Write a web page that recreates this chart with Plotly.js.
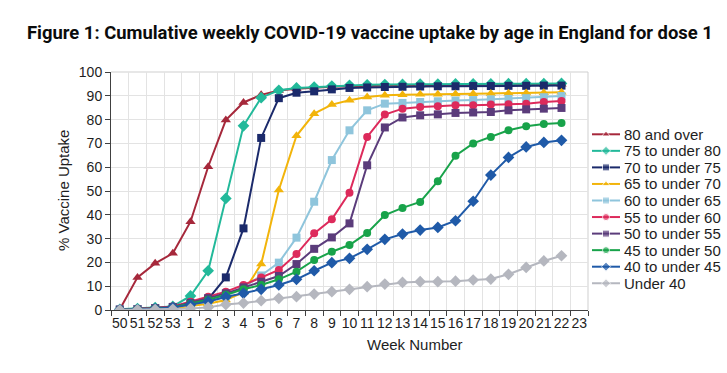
<!DOCTYPE html>
<html>
<head>
<meta charset="utf-8">
<script src="https://cdn.plot.ly/plotly-3.0.1.min.js"></script>
<style>html,body{margin:0;padding:0;background:#fff;}#chart{width:727px;height:373px;}</style>
</head>
<body>
<div id="chart"></div>
<script>
// Categories (week numbers)
const weeks = ["50","51","52","53","1","2","3","4","5","6","7","8","9","10","11","12","13","14","15","16","17","18","19","20","21","22","23"];
const dataWeeks = weeks.slice(0, 26);

// Series names
const seriesNames = ["80 and over","75 to under 80","70 to under 75","65 to under 70","60 to under 65","55 to under 60","50 to under 55","45 to under 50","40 to under 45","Under 40"];

// Cumulative uptake (%) per week, week 50 .. week 22
const age80plus  = [0.3,13.7,19.6,23.8,37.1,60.2,79.8,87.2,90.4,92.2,93.0,93.5,93.8,94.0,94.2,94.3,94.4,94.5,94.5,94.6,94.6,94.7,94.7,94.8,94.8,94.9];
const age75to80  = [0.3,0.6,1.0,1.5,5.9,16.5,46.9,77.4,89.2,92.3,93.3,93.7,94.1,94.4,94.6,94.7,94.8,94.9,94.9,95.0,95.0,95.0,95.1,95.1,95.1,95.2];
const age70to75  = [0.2,0.4,0.8,1.2,2.5,4.6,13.7,34.3,72.3,89.0,91.3,91.9,92.7,93.3,93.5,93.7,93.8,93.9,94.0,94.0,94.1,94.1,94.2,94.2,94.3,94.3];
const age65to70  = [0.0,0.1,0.3,0.7,1.5,2.6,4.2,7.5,19.3,50.4,73.2,82.5,86.3,88.1,89.5,90.2,90.4,90.6,90.7,90.8,90.9,91.0,91.1,91.2,91.3,91.5];
const age60to65  = [0.1,0.3,0.6,1.1,2.2,3.6,5.8,9.5,14.5,19.9,30.4,45.5,63.0,75.5,83.9,86.7,87.0,87.4,87.7,88.0,88.2,88.5,88.7,89.0,89.4,89.9];
const age55to60  = [0.1,0.4,0.8,1.5,3.5,5.6,7.7,10.5,13.7,16.8,23.5,32.2,38.1,49.3,72.7,82.1,84.6,85.3,85.6,86.0,86.0,86.3,86.4,86.7,87.4,87.8];
const age50to55  = [0.1,0.3,0.7,1.3,3.0,5.0,7.0,9.5,11.9,14.3,19.3,25.7,30.5,36.4,60.8,76.7,80.9,81.8,82.2,82.8,83.0,83.2,83.9,84.3,84.6,84.9];
const age45to50  = [0.1,0.3,0.6,1.1,2.6,4.3,6.4,8.7,10.5,12.9,16.1,21.0,24.5,27.3,32.4,39.9,42.9,45.4,54.1,64.8,70.0,72.7,75.5,77.2,78.1,78.6];
const age40to45  = [0.1,0.2,0.5,1.0,2.2,3.6,5.5,7.0,8.7,10.5,12.9,16.5,19.9,21.7,25.5,29.7,31.9,33.6,34.7,37.5,45.7,56.7,64.1,68.5,70.4,71.3];
const ageUnder40 = [0.0,0.1,0.2,0.3,0.6,1.1,2.3,2.9,3.9,4.9,5.6,6.7,7.7,8.7,9.8,10.9,11.6,11.9,11.9,12.1,12.6,13.0,15.0,17.9,20.6,22.8];

const seriesValues = [age80plus,age75to80,age70to75,age65to70,age60to65,age55to60,age50to55,age45to50,age40to45,ageUnder40];
const colors  = ["#a6283b","#22b99a","#1b2a6b","#f2b40a","#8fc5dc","#dd2a5b","#5b3c7b","#18a34a","#1f5aa8","#b5b7bf"];
const symbols = ["triangle-up","diamond","square","triangle-up","square","circle","square","circle","diamond","diamond"];
const sizes   = [9,9,8,9,8,8,8,8,9,9];

const traces = [];
seriesValues.forEach((vals, i) => {
  traces.push({
    type: "scatter", mode: "lines+markers",
    x: dataWeeks, y: vals, name: seriesNames[i],
    xaxis: "x", yaxis: "y",
    line: {color: colors[i], width: 2},
    marker: {color: colors[i], symbol: symbols[i], size: sizes[i]},
    showlegend: false, hoverinfo: "skip"
  });
});

// Custom legend (drawn on its own hidden axes, in pixel-like units)
const legTop = 134.3, legStep = 16.55;
const annotations = [];
seriesNames.forEach((nm, i) => {
  const yy = legTop + i * legStep;
  traces.push({
    type: "scatter", mode: "lines+markers",
    x: [592, 606, 620], y: [yy, yy, yy],
    xaxis: "x2", yaxis: "y2",
    line: {color: colors[i], width: 2},
    marker: {color: colors[i], symbol: symbols[i], size: [0, 7, 0]},
    showlegend: false, hoverinfo: "skip", cliponaxis: false
  });
  annotations.push({
    xref: "x2", yref: "y2", x: 621.5, y: yy, xanchor: "left", yanchor: "middle",
    text: nm, showarrow: false, font: {family: "Liberation Sans, Arial, sans-serif", size: 15, color: "#1e1e1e"}
  });
});

annotations.push({
  xref: "paper", yref: "paper", x: (415 - 111) / 616, y: -0.147,
  xanchor: "center", yanchor: "middle", showarrow: false,
  text: "Week Number", font: {family: "Liberation Sans, Arial, sans-serif", size: 15, color: "#1e1e1e"}
});
annotations.push({
  xref: "paper", yref: "paper", x: (63 - 111) / 616, y: 0.5,
  xanchor: "center", yanchor: "middle", showarrow: false, textangle: -90,
  text: "% Vaccine Uptake", font: {family: "Liberation Sans, Arial, sans-serif", size: 15, color: "#1e1e1e"}
});

const plotFrac = 477 / 616;
const layout = {
  width: 727, height: 373,
  margin: {l: 111, r: 0, t: 72, b: 63, pad: 0},
  paper_bgcolor: "#ffffff", plot_bgcolor: "#ffffff",
  title: {
    text: "<b>Figure 1: Cumulative weekly COVID-19 vaccine uptake by age in England for dose 1</b>",
    xref: "container", yref: "container", x: 27 / 727, xanchor: "left",
    y: 1 - 33 / 373, yanchor: "middle",
    font: {family: "Roboto, sans-serif", size: 18.4, color: "#0b0c0c"}
  },
  xaxis: {
    domain: [0, plotFrac], anchor: "y",
    type: "category", categoryorder: "array", categoryarray: weeks,
    range: [-0.5, weeks.length - 0.5],
    tickmode: "array", tickvals: weeks, ticktext: weeks, tickangle: 0,
    tickson: "boundaries", ticks: "outside", ticklen: 5, tickcolor: "#404040",
    showline: true, linecolor: "#404040", linewidth: 1,
    showgrid: true, gridcolor: "#e3e3e3", gridwidth: 1,
    tickfont: {family: "Liberation Sans, Arial, sans-serif", size: 14, color: "#1e1e1e"},
    zeroline: false, fixedrange: true
  },
  yaxis: {
    domain: [0, 1], anchor: "x",
    range: [0, 100], dtick: 10, tick0: 0,
    ticks: "outside", ticklen: 5, tickcolor: "#404040",
    showline: true, linecolor: "#404040", linewidth: 1,
    showgrid: true, gridcolor: "#e3e3e3", gridwidth: 1,
    tickfont: {family: "Liberation Sans, Arial, sans-serif", size: 14, color: "#1e1e1e"},
    zeroline: false, fixedrange: true
  },
  xaxis2: {domain: [plotFrac, 1], anchor: "y2", range: [588, 727], visible: false, fixedrange: true},
  yaxis2: {domain: [0, 1], anchor: "x2", range: [310, 72], visible: false, fixedrange: true},
  shapes: [
    {type: "line", xref: "paper", yref: "paper", x0: 0, x1: plotFrac, y0: 1, y1: 1, line: {color: "#cfcfcf", width: 1}, layer: "below"},
    {type: "line", xref: "paper", yref: "paper", x0: plotFrac, x1: plotFrac, y0: 0, y1: 1, line: {color: "#cfcfcf", width: 1}, layer: "below"}
  ],
  annotations: annotations,
  showlegend: false
};

Plotly.newPlot("chart", traces, layout, {staticPlot: true, displayModeBar: false});
</script>
</body>
</html>
